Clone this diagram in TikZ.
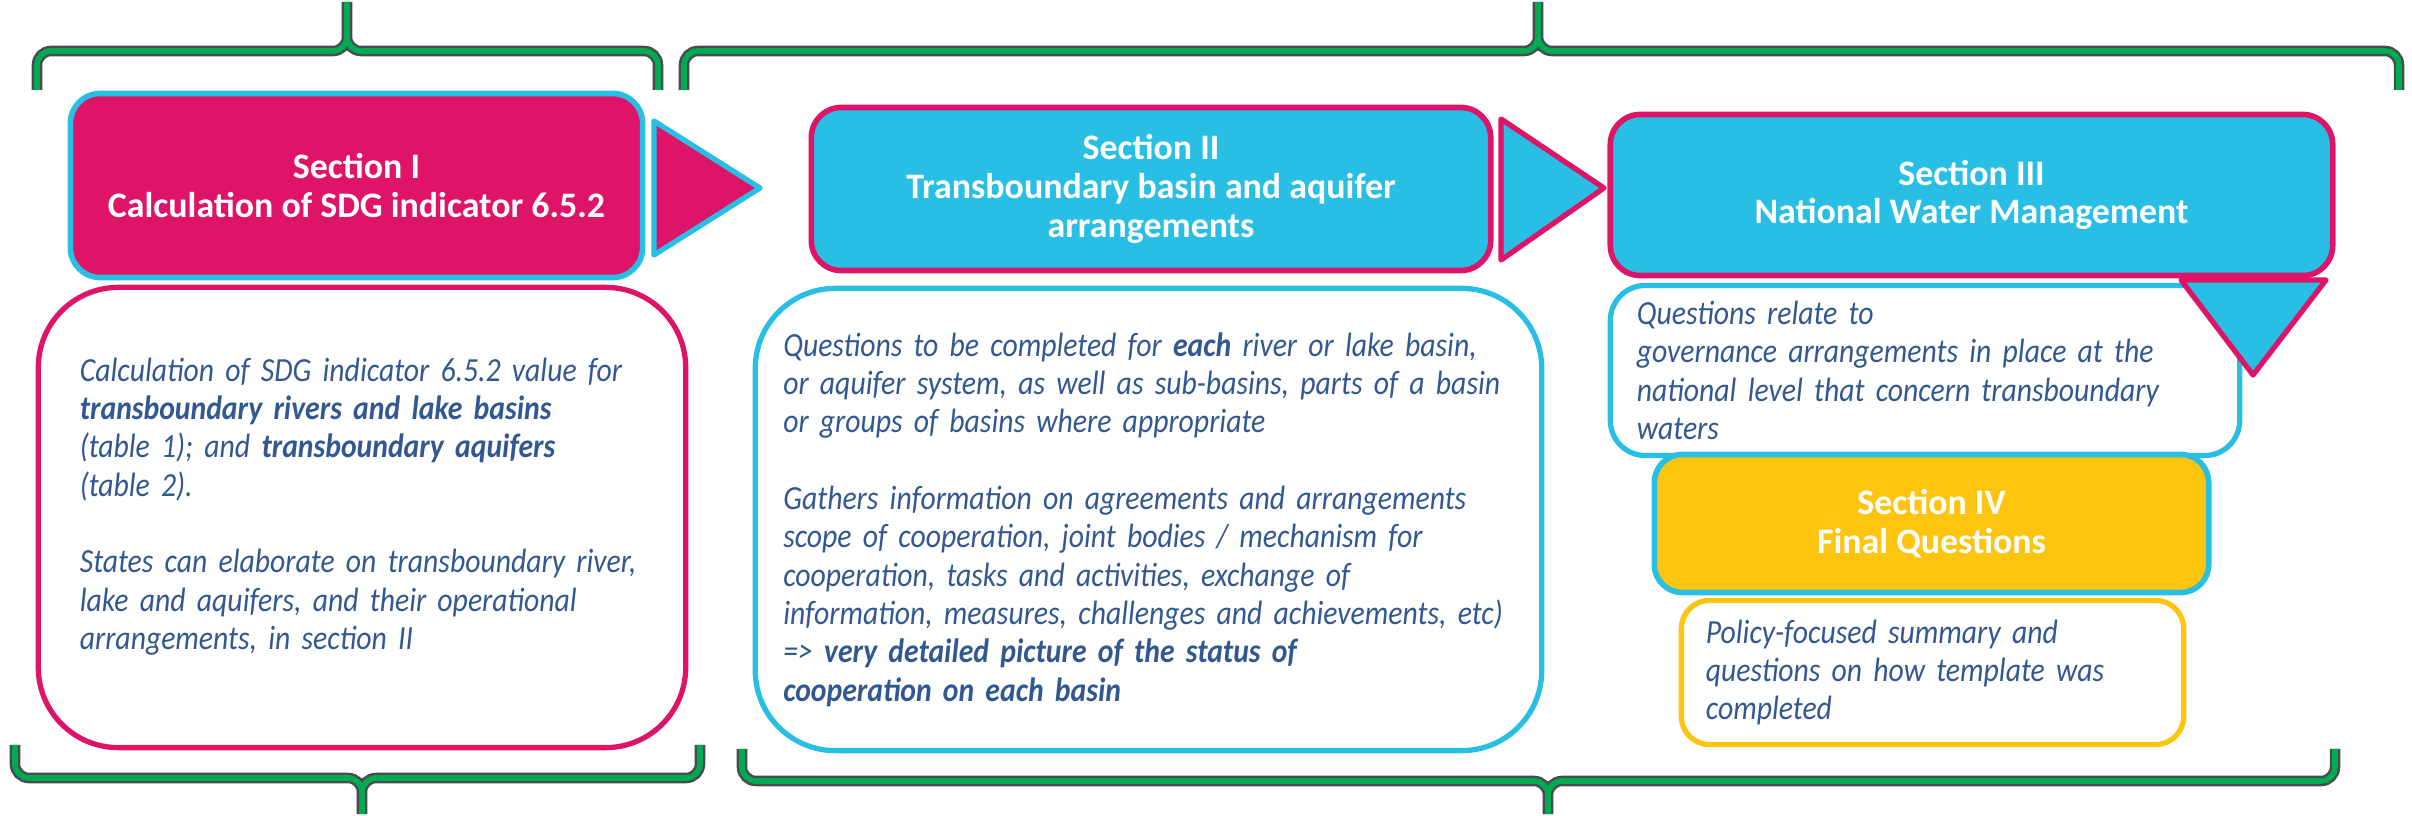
\documentclass[tikz,border=0pt]{standalone}
\usepackage{fontspec}
\setmainfont{Carlito}
\newfontfamily\bodyfont{Carlito}[FakeStretch=0.88]
\definecolor{sdgpink}{RGB}{222,20,104}
\definecolor{sdgcyan}{RGB}{41,190,228}
\definecolor{sdgyellow}{RGB}{253,196,16}
\definecolor{bracegreen}{RGB}{0,170,80}
\definecolor{bracegray}{RGB}{70,76,82}
\definecolor{textblue}{RGB}{50,88,145}

\begin{document}
\begin{tikzpicture}[x=0.01cm, y=-0.01cm,
    head/.style={rounded corners=0.3cm, line width=1.6pt, align=center, text=white,
      inner sep=0pt, font=\fontsize{10.2}{11}\selectfont\bfseries},
    body/.style={rounded corners=0.8cm, line width=1.5pt, fill=white, align=left,
      text=textblue, inner sep=0pt, font=\bodyfont\fontsize{9.6}{10.9}\selectfont\itshape},
    brace/.style={draw=bracegray, line width=0.7pt, double=bracegreen,
      double distance=1.6pt, rounded corners=0.14cm},
    tri/.style={line width=1.5pt, line join=round}]
    \useasboundingbox (0,0) rectangle (2412,816);

    % Braces
    \draw[brace] (37,90) -- (37,51) -- (347,51) -- (347,2)
                 (658,90) -- (658,51) -- (347,51) -- (347,2);
    \draw[brace] (684,90) -- (684,51) -- (1538,51) -- (1538,2)
                 (2399,90) -- (2399,51) -- (1538,51) -- (1538,2);
    \draw[brace] (15,745) -- (15,778) -- (362,778) -- (362,814)
                 (700,745) -- (700,778) -- (362,778) -- (362,814);
    \draw[brace] (742,749) -- (742,781) -- (1548,781) -- (1548,814)
                 (2335,749) -- (2335,781) -- (1548,781) -- (1548,814);

    % Section I
    \node[head, fill=sdgpink, draw=sdgcyan, minimum width=5.72cm, minimum height=1.84cm]
      (s1) at (356.5,185.5) {Section I\\Calculation of SDG indicator 6.5.2};
    \node[body, draw=sdgpink, minimum width=6.47cm, minimum height=4.6cm, text width=5.64cm]
      (b1) at (362,517.5) {Calculation of SDG indicator 6.5.2 value for\\
      \textbf{transboundary rivers and lake basins}\\
      (table 1); and \textbf{transboundary aquifers}\\
      (table 2).\\[10.9pt]
      States can elaborate on transboundary river,\\
      lake and aquifers, and their operational\\
      arrangements, in section II\\[-3pt]\mbox{}};
    \draw[tri, fill=sdgpink, draw=sdgcyan] (654,121) -- (760,188) -- (654,255) -- cycle;

    % Section II
    \node[head, fill=sdgcyan, draw=sdgpink, minimum width=6.79cm, minimum height=1.63cm]
      (s2) at (1151,189) {Section II\\Transboundary basin and aquifer\\arrangements};
    \node[body, draw=sdgcyan, minimum width=7.86cm, minimum height=4.62cm, text width=7.3cm]
      (b2) at (1148.5,519.5) {Questions to be completed for \textbf{each} river or lake basin,\\
      or aquifer system, as well as sub-basins, parts of a basin\\
      or groups of basins where appropriate\\[10.9pt]
      Gathers information on agreements and arrangements\\
      scope of cooperation, joint bodies / mechanism for\\
      cooperation, tasks and activities, exchange of\\
      information, measures, challenges and achievements, etc)\\
      => \textbf{very detailed picture of the status of}\\
      \textbf{cooperation on each basin}};
    \draw[tri, fill=sdgcyan, draw=sdgpink] (1501,119) -- (1604,188) -- (1501,260) -- cycle;

    % Section III
    \node[head, fill=sdgcyan, draw=sdgpink, minimum width=7.22cm, minimum height=1.61cm]
      (s3) at (1971.5,195) {Section III\\National Water Management};
    \node[body, draw=sdgcyan, rounded corners=0.35cm, minimum width=6.29cm,
      minimum height=1.7cm, text width=5.76cm]
      (b3) at (1925,370.5) {Questions relate to\\
      governance arrangements in place at the\\
      national level that concern transboundary\\
      waters};
    \draw[tri, fill=sdgcyan, draw=sdgpink] (2181,280) -- (2326,280) -- (2253,375) -- cycle;

    % Section IV
    \node[head, fill=sdgyellow, draw=sdgcyan, rounded corners=0.28cm, minimum width=5.54cm,
      minimum height=1.38cm] (s4) at (1931.5,523.5) {Section IV\\Final Questions};
    \node[body, draw=sdgyellow, rounded corners=0.28cm, minimum width=5.02cm,
      minimum height=1.44cm, text width=4.53cm]
      (b4) at (1932.5,672.5) {Policy-focused summary and\\
      questions on how template was\\
      completed};
  \end{tikzpicture}
\end{document}
